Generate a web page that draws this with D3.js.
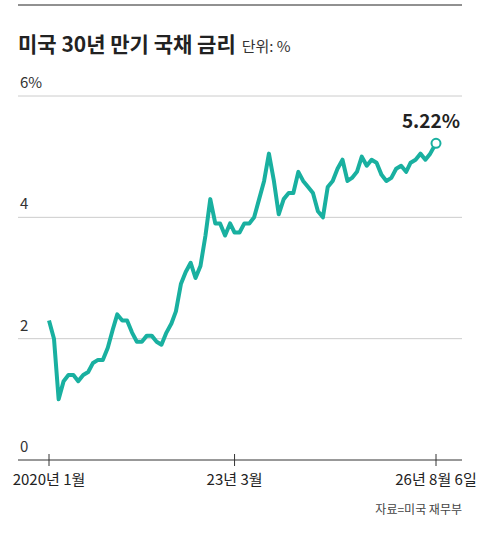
<!DOCTYPE html>
<html>
<head>
<meta charset="utf-8">
<script src="https://cdn.jsdelivr.net/npm/d3@7"></script>
<style>
  body { margin: 0; background: #fff; font-family: "Noto Sans CJK KR", sans-serif; }
  text { font-family: "Noto Sans CJK KR", sans-serif; }
</style>
</head>
<body>
<div id="chart"></div>
<script>
// monthly yields, Jan 2020 .. Aug 2026
const startMonth = '2020-01';
const yields = [
    2.3, 2.0, 1.0, 1.3, 1.4, 1.4, 1.3, 1.4, 1.45, 1.6, 1.65, 1.65,
    1.85, 2.15, 2.4, 2.3, 2.3, 2.1, 1.95, 1.95, 2.05, 2.05, 1.95, 1.9,
    2.1, 2.25, 2.45, 2.9, 3.1, 3.25, 3.0, 3.2, 3.7, 4.3, 3.9, 3.9,
    3.7, 3.9, 3.75, 3.75, 3.9, 3.9, 4.0, 4.3, 4.6, 5.05, 4.6, 4.05,
    4.3, 4.4, 4.4, 4.75, 4.6, 4.5, 4.4, 4.1, 4.0, 4.5, 4.6, 4.8,
    4.95, 4.6, 4.65, 4.75, 5.0, 4.85, 4.95, 4.9, 4.7, 4.6, 4.65, 4.8,
    4.85, 4.75, 4.9, 4.95, 5.05, 4.95, 5.05, 5.22
];
const yTicks = [0, 2, 4, 6];
const xTickDates = ['2020-01-01', '2023-03-01', '2026-08-06'];
const xTickLabels = ['2020년 1월', '23년 3월', '26년 8월 6일'];

const parse = d3.timeParse('%Y-%m-%d');
const start = parse(startMonth + '-01');
const data = yields.map((v, i) => ({
    date: i === yields.length - 1 ? parse('2026-08-06') : d3.timeMonth.offset(start, i),
    value: v
}));

const width = 480, height = 534;
const svg = d3.select('#chart').append('svg').attr('width', width).attr('height', height);

const x = d3.scaleTime().domain([parse('2020-01-01'), parse('2026-08-06')]).range([49, 436]);
const y = d3.scaleLinear().domain([0, 6]).range([460, 96]);

// top rule and title
svg.append('line').attr('x1', 18).attr('x2', 462).attr('y1', 5).attr('y2', 5).attr('stroke', '#222').attr('stroke-width', 1);
const title = svg.append('text').attr('x', 18).attr('y', 52).attr('fill', '#222');
title.append('tspan').attr('font-size', 21).attr('font-weight', 700).text('미국 30년 만기 국채 금리');
title.append('tspan').attr('font-size', 15).attr('dx', 6).attr('fill', '#333').text('단위: %');

// gridlines
svg.selectAll('.grid').data(yTicks.filter(d => d > 0)).enter().append('line')
    .attr('x1', 18).attr('x2', 462)
    .attr('y1', d => y(d)).attr('y2', d => y(d))
    .attr('stroke', '#ccc').attr('stroke-width', 1);

svg.selectAll('.ylab').data(yTicks).enter().append('text')
    .attr('x', 20).attr('y', d => y(d) - 8)
    .attr('font-size', 15).attr('fill', '#333')
    .text(d => d === 6 ? '6%' : d);

// x axis
svg.append('line').attr('x1', 18).attr('x2', 462).attr('y1', y(0)).attr('y2', y(0)).attr('stroke', '#333');
xTickDates.forEach((d, i) => {
    const xp = x(parse(d));
    svg.append('line').attr('x1', xp).attr('x2', xp).attr('y1', y(0) - 6).attr('y2', y(0) + 6).attr('stroke', '#333');
    svg.append('text').attr('x', xp).attr('y', 485).attr('text-anchor', 'middle')
        .attr('font-size', 15).attr('fill', '#222').text(xTickLabels[i]);
});

// line
svg.append('path').datum(data)
    .attr('fill', 'none').attr('stroke', '#19b0a0').attr('stroke-width', 4)
    .attr('stroke-linejoin', 'round')
    .attr('d', d3.line().x(d => x(d.date)).y(d => y(d.value)));

const last = data[data.length - 1];
svg.append('circle').attr('cx', x(last.date)).attr('cy', y(last.value)).attr('r', 4.5)
    .attr('fill', '#fff').attr('stroke', '#19b0a0').attr('stroke-width', 2);
svg.append('text').attr('x', 460).attr('y', y(last.value) - 15).attr('text-anchor', 'end')
    .attr('font-size', 19).attr('font-weight', 700).attr('fill', '#222').text('5.22%');

svg.append('text').attr('x', 462).attr('y', 514).attr('text-anchor', 'end')
    .attr('font-size', 12).attr('fill', '#444').text('자료=미국 재무부');
</script>
</body>
</html>
